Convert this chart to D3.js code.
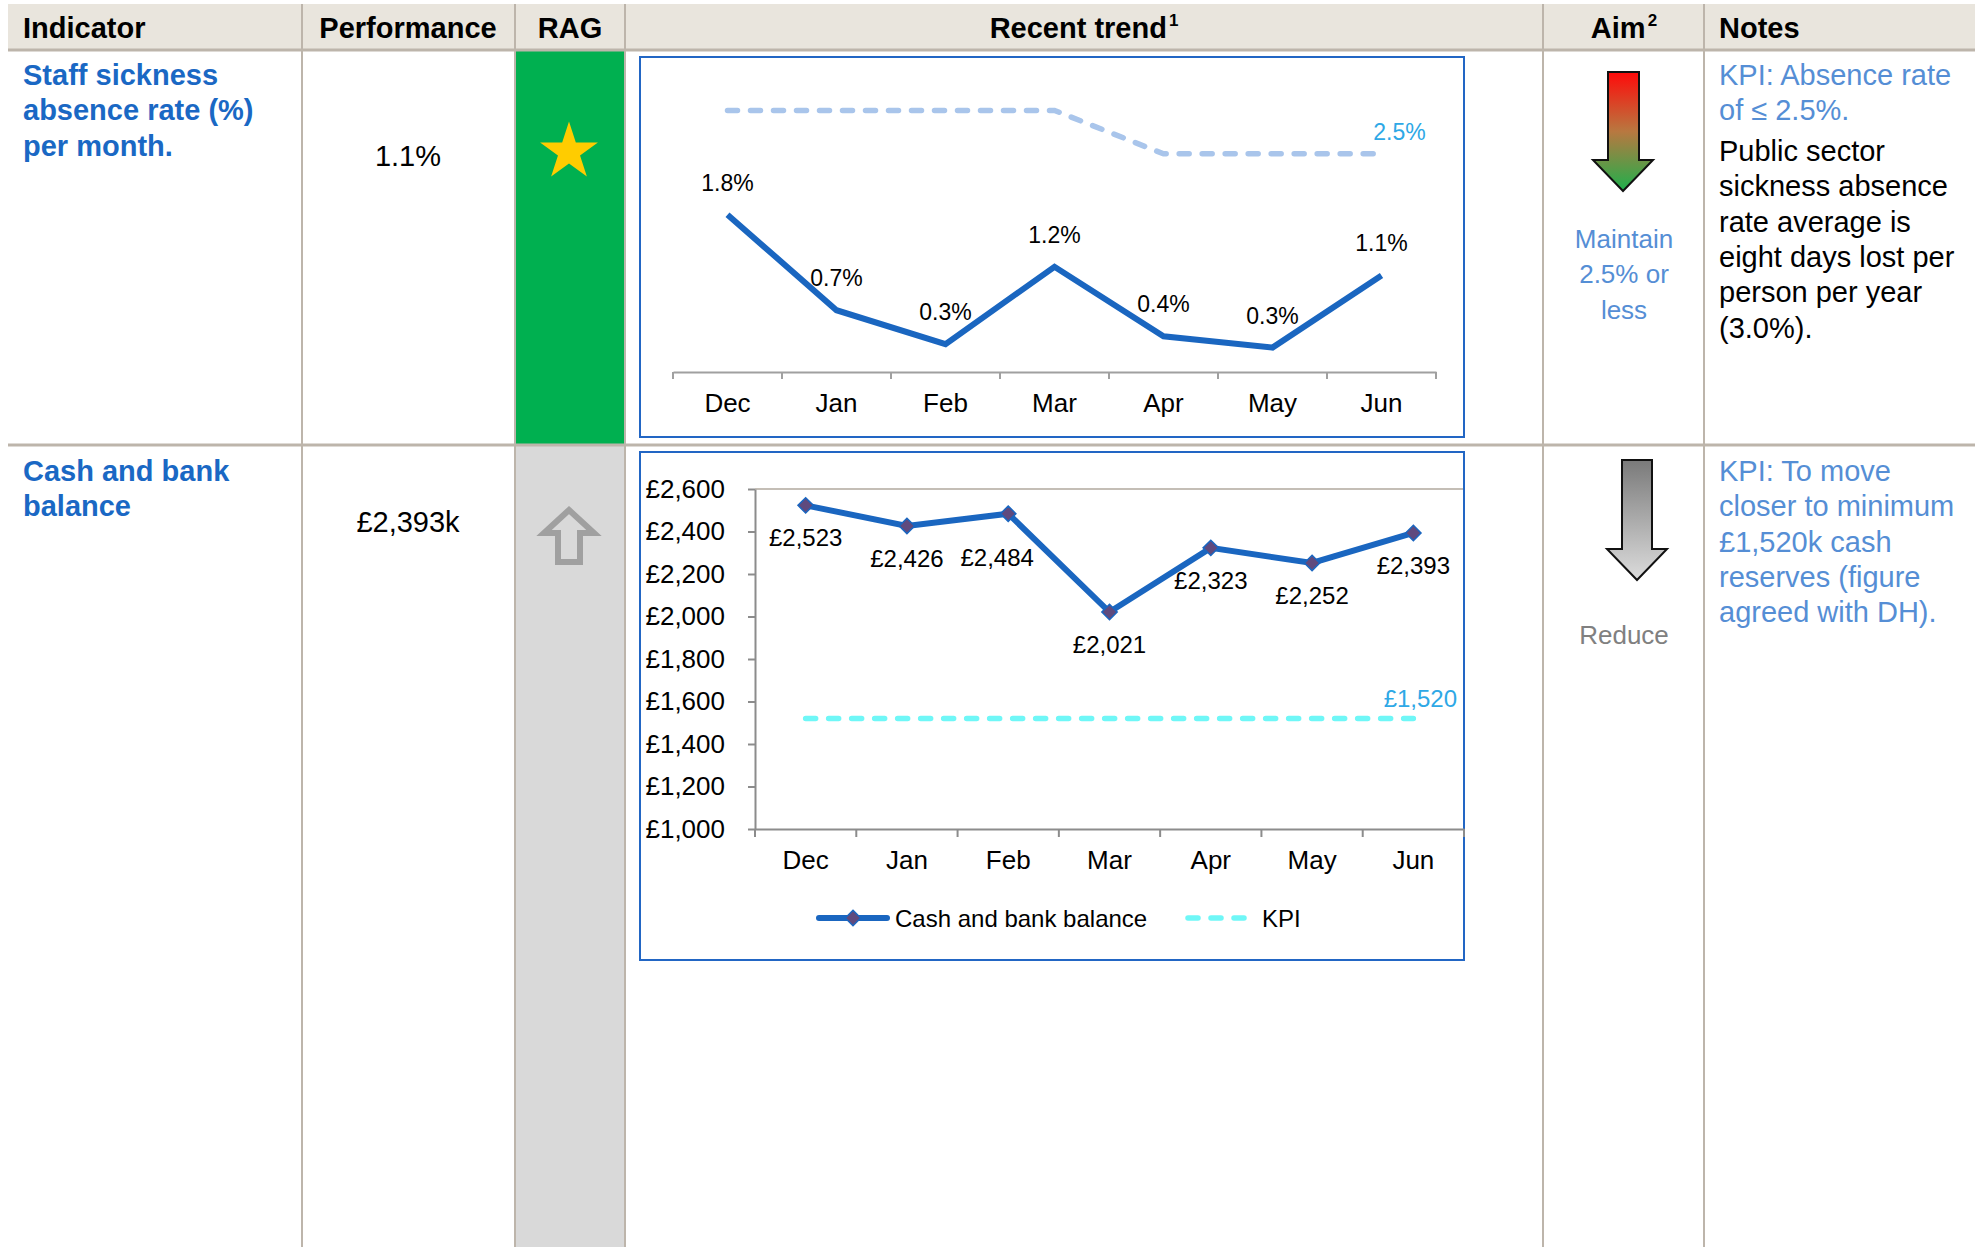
<!DOCTYPE html>
<html lang="en">
<head>
<meta charset="UTF-8">
<title>Indicators - recent trend</title>
<style>
  body { margin: 0; background: #fff; }
  svg { display: block; font-family: "Liberation Sans", Arial, sans-serif; }
</style>
</head>
<body>
<svg id="board" width="1975" height="1247"></svg>

<script src="https://cdnjs.cloudflare.com/ajax/libs/d3/7.8.5/d3.min.js"></script>
<script>
// data
const months = ["Dec", "Jan", "Feb", "Mar", "Apr", "May", "Jun"];
const sicknessRate = [1.8, 0.7, 0.31, 1.2, 0.4, 0.27, 1.1];
const sicknessTarget = [3.0, 3.0, 3.0, 3.0, 2.5, 2.5, 2.5];
const cashBalance = [2523, 2426, 2484, 2021, 2323, 2252, 2393];
const cashKpi = [1520, 1520, 1520, 1520, 1520, 1520, 1520];
const cashTicks = [1000, 1200, 1400, 1600, 1800, 2000, 2200, 2400, 2600];

const headers = ["Indicator", "Performance", "RAG", "Recent trend", "Aim", "Notes"];
const indicators = [["Staff sickness", "absence rate (%)", "per month."], ["Cash and bank", "balance"]];
const performance = ["1.1%", "£2,393k"];
const aims = [["Maintain", "2.5% or", "less"], ["Reduce"]];
const notesKpi = [["KPI: Absence rate", "of ≤ 2.5%."], ["KPI: To move", "closer to minimum", "£1,520k cash", "reserves (figure", "agreed with DH)."]];
const notesText = ["Public sector", "sickness absence", "rate average is", "eight days lost per", "person per year", "(3.0%)."];

const svg = d3.select("#board");
const gridCol = "#BDB5AB";
const blue = "#1A66C0";
const lightBlue = "#558ED5";
const labelBlue = "#2EA8E6";

// ---------- table frame ----------
svg.append("rect").attr("x", 8).attr("y", 4).attr("width", 1967).attr("height", 46).attr("fill", "#E9E5DD");
svg.append("rect").attr("x", 516).attr("y", 51).attr("width", 108).attr("height", 393).attr("fill", "#00B050");
svg.append("rect").attr("x", 516).attr("y", 446).attr("width", 108).attr("height", 801).attr("fill", "#D9D9D9");

[302, 515, 625, 1543, 1704].forEach(x => {
    svg.append("line").attr("x1", x).attr("x2", x).attr("y1", 4).attr("y2", 1247)
        .attr("stroke", gridCol).attr("stroke-width", 2);
});
[50, 445].forEach(y => {
    svg.append("line").attr("x1", 8).attr("x2", 1975).attr("y1", y).attr("y2", y)
        .attr("stroke", gridCol).attr("stroke-width", 3);
});

// header row
const headPos = [[23, "start"], [408, "middle"], [570, "middle"], [1084, "middle"], [1624, "middle"], [1719, "start"]];
headers.forEach((h, i) => {
    const t = svg.append("text").attr("x", headPos[i][0]).attr("y", 38)
        .attr("text-anchor", headPos[i][1]).attr("font-size", 29).attr("font-weight", "bold").text(h);
    if (h === "Recent trend" || h === "Aim") {
        t.append("tspan").attr("font-size", 17).attr("dy", -12).attr("dx", 2).text(h === "Aim" ? "2" : "1");
    }
});

// indicator names
const rowTop = [85, 481];
indicators.forEach((lines, r) => {
    lines.forEach((s, i) => {
        svg.append("text").attr("x", 23).attr("y", rowTop[r] + i * 35.3)
            .attr("font-size", 29).attr("font-weight", "bold").attr("fill", "#1A68C4").text(s);
    });
});

// performance
[166, 532].forEach((y, r) => {
    svg.append("text").attr("x", 408).attr("y", y).attr("text-anchor", "middle")
        .attr("font-size", 29).text(performance[r]);
});

// RAG symbols
const star = d3.range(10).map(i => {
    const a = -Math.PI / 2 + i * Math.PI / 5, rr = i % 2 ? 11.6 : 30.4;
    return [569 + rr * Math.cos(a), 152 + rr * Math.sin(a)];
});
svg.append("polygon").attr("points", star.join(" ")).attr("fill", "#FFCC00");
svg.append("polygon")
    .attr("points", "569,510 594,533 580,533 580,562 558,562 558,533 544,533")
    .attr("fill", "none").attr("stroke", "#A0A0A0").attr("stroke-width", 6).attr("stroke-linejoin", "miter");

// aim arrows
const defs = svg.append("defs");
const g1 = defs.append("linearGradient").attr("id", "aimRed").attr("x1", 0).attr("x2", 0).attr("y1", 0).attr("y2", 1);
g1.append("stop").attr("offset", "0%").attr("stop-color", "#FF0A0A");
g1.append("stop").attr("offset", "50%").attr("stop-color", "#B87840");
g1.append("stop").attr("offset", "100%").attr("stop-color", "#1EB04C");
const g2 = defs.append("linearGradient").attr("id", "aimGrey").attr("x1", 0).attr("x2", 0).attr("y1", 0).attr("y2", 1);
g2.append("stop").attr("offset", "0%").attr("stop-color", "#7A7A7A");
g2.append("stop").attr("offset", "100%").attr("stop-color", "#DCDCDC");

svg.append("polygon").attr("points", "1608,72 1639,72 1639,160 1653,160 1623,191 1593,160 1608,160")
    .attr("fill", "url(#aimRed)").attr("stroke", "#111").attr("stroke-width", 2);
svg.append("polygon").attr("points", "1622,460 1652,460 1652,549 1667,549 1637,580 1607,549 1622,549")
    .attr("fill", "url(#aimGrey)").attr("stroke", "#111").attr("stroke-width", 2);

aims[0].forEach((s, i) => {
    svg.append("text").attr("x", 1624).attr("y", 248 + i * 35.3).attr("text-anchor", "middle")
        .attr("font-size", 26).attr("fill", lightBlue).text(s);
});
svg.append("text").attr("x", 1624).attr("y", 644).attr("text-anchor", "middle")
    .attr("font-size", 26).attr("fill", "#808080").text(aims[1][0]);

// notes
notesKpi[0].forEach((s, i) => {
    svg.append("text").attr("x", 1719).attr("y", 85 + i * 35.3).attr("font-size", 29).attr("fill", lightBlue).text(s);
});
notesText.forEach((s, i) => {
    svg.append("text").attr("x", 1719).attr("y", 161 + i * 35.3).attr("font-size", 29).attr("fill", "#000").text(s);
});
notesKpi[1].forEach((s, i) => {
    svg.append("text").attr("x", 1719).attr("y", 481 + i * 35.3).attr("font-size", 29).attr("fill", lightBlue).text(s);
});

// ---------- chart 1: sickness absence ----------
svg.append("rect").attr("x", 640).attr("y", 57).attr("width", 824).attr("height", 380)
    .attr("fill", "#fff").attr("stroke", "#2266C4").attr("stroke-width", 2);

const x1 = d3.scaleBand().domain(months).range([673, 1436]);
const y1 = d3.scaleLinear().domain([0, 3.5]).range([371, 67]);
const cx1 = (d, i) => x1(months[i]) + x1.bandwidth() / 2;

const ax1 = svg.append("g").attr("transform", "translate(0,372)")
    .call(d3.axisBottom(x1).tickSize(0).tickSizeOuter(0).tickPadding(22));
ax1.select(".domain").attr("stroke", "#A0A0A0").attr("stroke-width", 2);
ax1.selectAll("text").attr("font-size", 26).attr("fill", "#000").attr("font-family", "Liberation Sans, Arial, sans-serif");
ax1.selectAll(".bound").data(months.map(m => x1(m)).concat(x1.range()[1])).enter()
    .append("line").attr("x1", d => d).attr("x2", d => d).attr("y1", 0).attr("y2", 7)
    .attr("stroke", "#A0A0A0").attr("stroke-width", 2);

svg.append("path").datum(sicknessTarget)
    .attr("d", d3.line().x(cx1).y(d => y1(d)))
    .attr("fill", "none").attr("stroke", "#A9C5EB").attr("stroke-width", 5.5)
    .attr("stroke-dasharray", "10,13").attr("stroke-linecap", "round");
svg.append("path").datum(sicknessRate)
    .attr("d", d3.line().x(cx1).y(d => y1(d)))
    .attr("fill", "none").attr("stroke", blue).attr("stroke-width", 6).attr("stroke-linejoin", "miter");

svg.selectAll(".lab1").data(sicknessRate).enter().append("text")
    .attr("x", cx1).attr("y", d => y1(d) - 24).attr("text-anchor", "middle")
    .attr("font-size", 23).text(d => d.toFixed(1) + "%");

const lastT = sicknessTarget.length - 1;
svg.append("text").attr("x", cx1(null, lastT) + 18).attr("y", y1(sicknessTarget[lastT]) - 14)
    .attr("text-anchor", "middle").attr("font-size", 23).attr("fill", labelBlue)
    .text(sicknessTarget[lastT].toFixed(1) + "%");

// ---------- chart 2: cash and bank ----------
svg.append("rect").attr("x", 640).attr("y", 452).attr("width", 824).attr("height", 508)
    .attr("fill", "#fff").attr("stroke", "#2266C4").attr("stroke-width", 2);

const x2 = d3.scaleBand().domain(months).range([755, 1464]);
const y2 = d3.scaleLinear().domain([1000, 2600]).range([829, 489]);
const cx2 = (d, i) => x2(months[i]) + x2.bandwidth() / 2;
const money = d => "£" + d3.format(",")(d);

svg.append("line").attr("x1", 755).attr("x2", 1463).attr("y1", y2(2600)).attr("y2", y2(2600))
    .attr("stroke", "#C4BEB6").attr("stroke-width", 2);

const ay2 = svg.append("g").attr("transform", "translate(755,0)")
    .call(d3.axisLeft(y2).tickValues(cashTicks).tickSize(7).tickSizeOuter(0).tickPadding(23).tickFormat(money));
ay2.selectAll("line, .domain").attr("stroke", "#8C8C8C").attr("stroke-width", 2);
ay2.selectAll("text").attr("font-size", 26).attr("fill", "#000").attr("font-family", "Liberation Sans, Arial, sans-serif");

const ax2 = svg.append("g").attr("transform", "translate(0,829)")
    .call(d3.axisBottom(x2).tickSize(0).tickSizeOuter(0).tickPadding(22));
ax2.select(".domain").attr("stroke", "#8C8C8C").attr("stroke-width", 2);
ax2.selectAll("text").attr("font-size", 26).attr("fill", "#000").attr("font-family", "Liberation Sans, Arial, sans-serif");
ax2.selectAll(".bound").data(months.map(m => x2(m)).concat(x2.range()[1])).enter()
    .append("line").attr("x1", d => d).attr("x2", d => d).attr("y1", 0).attr("y2", 8)
    .attr("stroke", "#8C8C8C").attr("stroke-width", 2);

svg.append("path").datum(cashKpi)
    .attr("d", d3.line().x(cx2).y(d => y2(d)))
    .attr("fill", "none").attr("stroke", "#6FF7F7").attr("stroke-width", 5.5)
    .attr("stroke-dasharray", "10,13").attr("stroke-linecap", "round");
svg.append("path").datum(cashBalance)
    .attr("d", d3.line().x(cx2).y(d => y2(d)))
    .attr("fill", "none").attr("stroke", blue).attr("stroke-width", 6);

const diamond = d3.symbol().type(d3.symbolDiamond2).size(150);
svg.selectAll(".mk2").data(cashBalance).enter().append("path")
    .attr("d", diamond).attr("transform", (d, i) => `translate(${cx2(d, i)},${y2(d)})`)
    .attr("fill", "#5F4A7E").attr("stroke", blue).attr("stroke-width", 1.5);

const nudge = { Feb: [-11, 11] };
svg.selectAll(".lab2").data(cashBalance).enter().append("text")
    .attr("x", (d, i) => cx2(d, i) + (nudge[months[i]] || [0, 0])[0])
    .attr("y", (d, i) => y2(d) + 41 + (nudge[months[i]] || [0, 0])[1])
    .attr("text-anchor", "middle").attr("font-size", 24).text(money);

const lastK = cashKpi.length - 1;
svg.append("text").attr("x", cx2(null, lastK) + 7).attr("y", y2(cashKpi[lastK]) - 12)
    .attr("text-anchor", "middle").attr("font-size", 24).attr("fill", labelBlue).text(money(cashKpi[lastK]));

// legend
const leg = svg.append("g").attr("transform", "translate(0,918)");
leg.append("line").attr("x1", 819).attr("x2", 887).attr("stroke", blue).attr("stroke-width", 6).attr("stroke-linecap", "round");
leg.append("path").attr("d", diamond).attr("transform", "translate(853,0)")
    .attr("fill", "#5F4A7E").attr("stroke", blue).attr("stroke-width", 1.5);
leg.append("text").attr("x", 895).attr("y", 9).attr("font-size", 24).text("Cash and bank balance");
leg.append("line").attr("x1", 1188).attr("x2", 1245).attr("stroke", "#6FF7F7").attr("stroke-width", 5.5)
    .attr("stroke-dasharray", "10,13").attr("stroke-linecap", "round");
leg.append("text").attr("x", 1262).attr("y", 9).attr("font-size", 24).text("KPI");
</script>
</body>
</html>
